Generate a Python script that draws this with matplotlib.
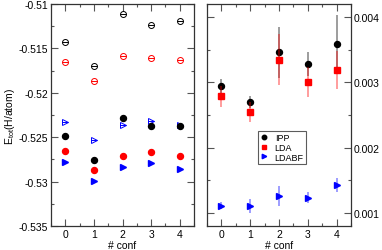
import matplotlib
matplotlib.use("Agg")
import matplotlib.pyplot as plt
from matplotlib.ticker import MultipleLocator

plt.rcParams['font.family'] = ['Liberation Sans', 'DejaVu Sans']
plt.rcParams['mathtext.fontset'] = 'custom'
plt.rcParams['mathtext.rm'] = 'Liberation Sans'
plt.rcParams['mathtext.it'] = 'Liberation Sans:italic'

conf = [0, 1, 2, 3, 4]

# Left panel: total energies (open = one set, filled = another)
ipp_open = [-0.51428, -0.51698, -0.51113, -0.51233, -0.51191]
lda_open = [-0.51653, -0.51867, -0.51589, -0.51608, -0.51631]
ldabf_open = [-0.52325, -0.52528, -0.52359, -0.52321, -0.52362]
ipp_fill = [-0.52483, -0.52753, -0.52287, -0.52370, -0.52372]
lda_fill = [-0.52652, -0.52866, -0.52708, -0.52670, -0.52712]
ldabf_fill = [-0.52776, -0.52990, -0.52836, -0.52791, -0.52858]

# Right panel: differences with error bars
ipp_diff = [0.002938, 0.002703, 0.003462, 0.003282, 0.003585]
ipp_err = [0.000113, 0.000092, 0.00039, 0.00019, 0.00044]
lda_diff = [0.002785, 0.002550, 0.003343, 0.003010, 0.003185]
lda_err = [0.000165, 0.00015, 0.00039, 0.00023, 0.00029]
ldabf_diff = [0.001112, 0.001108, 0.001257, 0.001235, 0.001431]
ldabf_err = [0.00005, 0.00011, 0.000154, 0.00008, 0.00011]

fig = plt.figure(figsize=(3.82, 2.51), dpi=100)
ax1 = fig.add_axes([51/382, 24/251, 143/382, 222/251])
ax2 = fig.add_axes([207/382, 24/251, 144/382, 222/251])

fs = 7.5
ms_o = 4.3

for y, c in [(ipp_open, 'black'), (lda_open, 'red')]:
    ax1.plot(conf, y, linestyle='none', marker='o', mfc='none', mec=c, ms=ms_o, mew=0.7)
    ax1.plot(conf, y, linestyle='none', marker='_', color=c, ms=ms_o, mew=0.7)
ax1.plot(conf, ldabf_open, linestyle='none', marker='>', mfc='none', mec='blue', ms=ms_o, mew=0.7)
ax1.plot(conf, ldabf_open, linestyle='none', marker='_', color='blue', ms=ms_o, mew=0.7)
ax1.plot(conf, ipp_fill, linestyle='none', marker='o', color='black', ms=ms_o)
ax1.plot(conf, lda_fill, linestyle='none', marker='o', color='red', ms=ms_o)
ax1.plot(conf, ldabf_fill, linestyle='none', marker='>', color='blue', ms=ms_o)

ax1.set_xlim(-0.5, 4.5)
ax1.set_ylim(-0.535, -0.51)
ax1.xaxis.set_major_locator(MultipleLocator(1))
ax1.xaxis.set_minor_locator(MultipleLocator(0.5))
ax1.yaxis.set_minor_locator(MultipleLocator(0.0025))
ax1.set_yticks([-0.535, -0.53, -0.525, -0.52, -0.515, -0.51])
ax1.set_yticklabels(['-0.535', '-0.53', '-0.525', '-0.52', '-0.515', '-0.51'])
ax1.tick_params(which='both', direction='in', top=True, right=True, labelsize=fs, pad=2)
ax1.tick_params(which='major', length=5, width=0.8, color='#555555')
ax1.tick_params(which='minor', length=2.5, width=0.8, color='#555555')
ax1.set_xlabel('# conf', fontsize=fs, labelpad=1)
ax1.set_ylabel('E$_{\\rm tot}$(H/atom)', fontsize=fs, labelpad=1)

for y, e, c, m, lab in [(ipp_diff, ipp_err, 'black', 'o', 'IPP'),
                        (lda_diff, lda_err, 'red', 's', 'LDA'),
                        (ldabf_diff, ldabf_err, 'blue', '>', 'LDABF')]:
    ax2.errorbar(conf, y, yerr=e, fmt='none', ecolor=c, alpha=0.45, elinewidth=1.2)
    ax2.plot(conf, y, linestyle='none', marker=m, color=c, ms=4.3, label=lab)

ax2.set_xlim(-0.5, 4.5)
ax2.set_ylim(0.0008, 0.0042)
ax2.xaxis.set_major_locator(MultipleLocator(1))
ax2.xaxis.set_minor_locator(MultipleLocator(0.5))
ax2.yaxis.set_major_locator(MultipleLocator(0.001))
ax2.yaxis.set_minor_locator(MultipleLocator(0.0005))
ax2.yaxis.tick_right()
ax2.tick_params(which='both', direction='in', top=True, left=True, right=True,
                labelleft=False, labelright=True, labelsize=fs, pad=2)
ax2.tick_params(which='major', length=5, width=0.8, color='#555555')
ax2.tick_params(which='minor', length=2.5, width=0.8, color='#555555')
ax2.set_xlabel('# conf', fontsize=fs, labelpad=1)
leg = ax2.legend(loc='upper left', bbox_to_anchor=(0.354, 0.43), fontsize=6.5, frameon=True,
                 fancybox=False, edgecolor='#333333', handlelength=0.9, handletextpad=0.7,
                 borderpad=0.25, labelspacing=0.1, markerscale=0.75, borderaxespad=0)
leg.get_frame().set_linewidth(0.8)

for ax in (ax1, ax2):
    for s in ax.spines.values():
        s.set_linewidth(0.9)
        s.set_color('#333333')

fig.savefig('out.png', dpi=100)
